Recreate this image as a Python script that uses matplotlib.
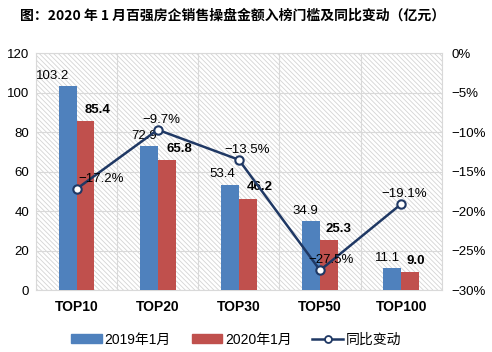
import matplotlib
matplotlib.use('Agg')
import matplotlib.pyplot as plt
from matplotlib.patches import Rectangle, Patch
from matplotlib.lines import Line2D
import numpy as np

plt.rcParams['font.family'] = ['Liberation Sans', 'Noto Sans CJK SC']
plt.rcParams['axes.unicode_minus'] = True
plt.rcParams['hatch.color'] = '#d4d4d4'
plt.rcParams['hatch.linewidth'] = 0.6

categories = ['TOP10', 'TOP20', 'TOP30', 'TOP50', 'TOP100']
sales_2019 = [103.2, 72.9, 53.4, 34.9, 11.1]
sales_2020 = [85.4, 65.8, 46.2, 25.3, 9.0]
yoy_change = [-17.2, -9.7, -13.5, -27.5, -19.1]

blue = '#4F81BD'
red = '#C0504D'
navy = '#1F3864'
grid_c = '#d9d9d9'

fig = plt.figure(figsize=(4.92, 3.52), dpi=100)
ax = fig.add_axes([0.073, 0.176, 0.825, 0.673])

x = np.arange(len(categories))
w = 0.22

# hatched background
ax.add_patch(Rectangle((0, 0), 1, 1, transform=ax.transAxes, facecolor='white',
                       hatch='\\' * 7, edgecolor='#d4d4d4', linewidth=0, zorder=0))

ax.bar(x - w / 2, sales_2019, w, color=blue, zorder=3)
ax.bar(x + w / 2, sales_2020, w, color=red, zorder=3)

ax.set_xlim(-0.5, len(categories) - 0.5)
ax.set_ylim(0, 120)
ax.set_yticks(range(0, 121, 20))
ax.set_xticks(x)
ax.set_xticklabels(categories, fontweight='bold', fontsize=10)
ax.set_xticks(np.arange(-0.5, len(categories), 1), minor=True)
ax.grid(True, which='minor', axis='x', color=grid_c, linewidth=0.8, zorder=1)
ax.grid(True, which='major', axis='y', color=grid_c, linewidth=0.8, zorder=1)
ax.set_axisbelow(True)
ax.tick_params(axis='both', which='both', length=0)
ax.tick_params(axis='y', labelsize=9.5, pad=5)
ax.tick_params(axis='x', pad=7)
for s in ax.spines.values():
    s.set_color(grid_c)
    s.set_linewidth(0.8)

# bar labels (pixel offsets)
off19 = [-15, -5, -8, -6, -5]
for i, v in enumerate(sales_2019):
    ax.annotate(f'{v:.1f}', (x[i] - w / 2, v), xytext=(off19[i] * 0.72, 3),
                textcoords='offset points', ha='center', va='bottom', fontsize=9.5, zorder=5)
off20 = [12, 13, 12, 10, 6]
for i, v in enumerate(sales_2020):
    ax.annotate(f'{v:.1f}', (x[i] + w / 2, v), xytext=(off20[i] * 0.72, 4),
                textcoords='offset points', ha='center', va='bottom', fontsize=9.5,
                fontweight='bold', zorder=5)

ax2 = ax.twinx()
ax2.set_ylim(-30, 0)
ax2.set_yticks(range(-30, 1, 5))
ax2.set_yticklabels([f'{t}%'.replace('-', '\u2212') for t in range(-30, 1, 5)])
ax2.tick_params(axis='y', length=0, labelsize=9.5, pad=7)
for s in ax2.spines.values():
    s.set_visible(False)

ax2.plot(x, yoy_change, color=navy, linewidth=1.8, marker='o', markersize=6,
         markerfacecolor='white', markeredgecolor=navy, markeredgewidth=1.5, zorder=4)
offl = [25, 4, 8, 11, 3]
for i, v in enumerate(yoy_change):
    ax2.annotate(f'{v:.1f}%'.replace('-', '\u2212'), (x[i], v), xytext=(offl[i] * 0.72, 3),
                 textcoords='offset points', ha='center', va='bottom', fontsize=9.5, zorder=5)

fig.text(0.04, 0.955, '图：2020 年 1 月百强房企销售操盘金额入榜门槛及同比变动（亿元）',
         fontsize=10, fontweight='bold', family=['Noto Sans CJK SC'], va='center', ha='left')

handles = [Patch(color=blue), Patch(color=red),
           Line2D([], [], color=navy, linewidth=1.8, marker='o', markersize=5,
                  markerfacecolor='white', markeredgecolor=navy, markeredgewidth=1.3)]
fig.legend(handles, ['2019年1月', '2020年1月', '同比变动'], loc='center',
           bbox_to_anchor=(0.48, 0.035), ncol=3, frameon=False, fontsize=10,
           handlelength=2.2, handleheight=0.6, handletextpad=0.2, columnspacing=1.5)

fig.savefig('out.png', dpi=100)
